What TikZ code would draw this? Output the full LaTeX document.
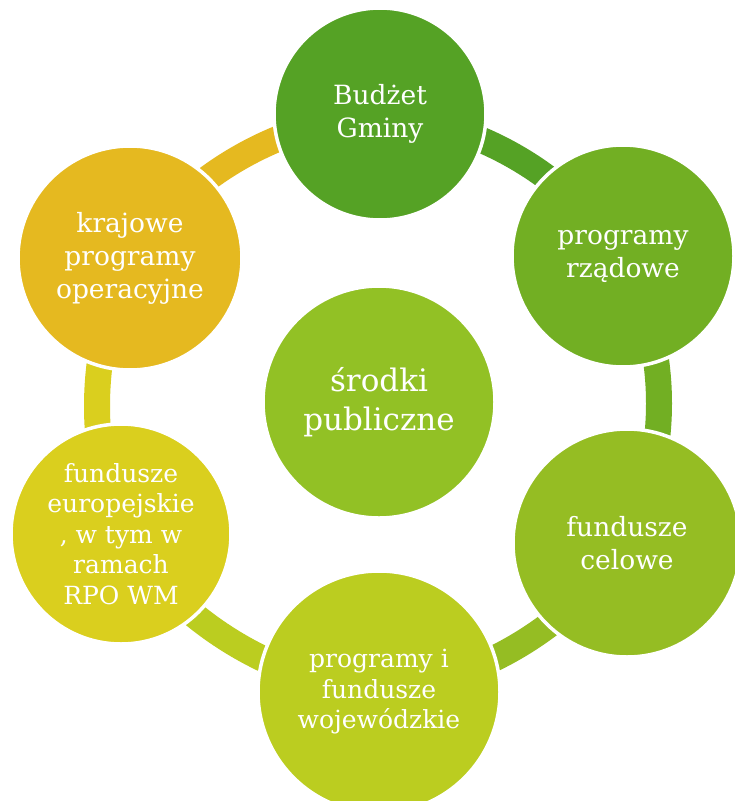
\documentclass[tikz,border=0pt]{standalone}
\usepackage{fontspec}
\setmainfont{DejaVu Serif}
\usetikzlibrary{backgrounds}
\definecolor{cGmina}{HTML}{55A225}
\definecolor{cRzad}{HTML}{72AF23}
\definecolor{cCelowe}{HTML}{95BD23}
\definecolor{cWoj}{HTML}{BBCD20}
\definecolor{cEuro}{HTML}{DACF1E}
\definecolor{cKraj}{HTML}{E5B920}
\definecolor{cCenter}{HTML}{92C125}
\tikzset{
  bubble/.style={circle, draw=white, line width=3.5pt, inner sep=0pt, text=white,
    align=center, font=\fontsize{26.5}{33}\selectfont},
  smalltext/.style={font=\fontsize{25}{30.5}\selectfont},
  bigtext/.style={font=\fontsize{31}{39}\selectfont},
  ringseg/.style={line width=26pt, looseness=0.91},
}
\begin{document}
\begin{tikzpicture}[x=1pt, y=-1pt]
\useasboundingbox (0,0) rectangle (735,801);
\clip (0,0) rectangle (735,801);

\node[bubble, fill=cGmina,  minimum size=212pt] (gmina)  at (380,114) {Budżet\\Gminy};
\node[bubble, fill=cRzad,   minimum size=222pt] (rzad)   at (623,256) {programy\\rządowe};
\node[bubble, fill=cCelowe, minimum size=228pt] (celowe) at (627,543) {fundusze\\celowe};
\node[bubble, smalltext, fill=cWoj, minimum size=242pt] (woj) at (379,692) {programy i\\fundusze\\wojewódzkie};
\node[bubble, smalltext, fill=cEuro, minimum size=220pt] (euro) at (121,534) {fundusze\\europejskie\\, w tym w\\ramach\\RPO WM};
\node[bubble, fill=cKraj,   minimum size=224pt] (kraj)   at (130,258) {krajowe\\programy\\operacyjne};
\node[bubble, bigtext, fill=cCenter, minimum size=232pt] (srodki) at (379,402) {środki\\publiczne};

\begin{scope}[on background layer]
  \fill[white] (0,0) rectangle (735,801);
  \draw[ringseg, cGmina]  (gmina.center)  to[bend left=24.6] (rzad.center);
  \draw[ringseg, cRzad]   (rzad.center)   to[bend left=26.3] (celowe.center);
  \draw[ringseg, cCelowe] (celowe.center) to[bend left=24.4] (woj.center);
  \draw[ringseg, cWoj]    (woj.center)    to[bend left=25]   (euro.center);
  \draw[ringseg, cEuro]   (euro.center)   to[bend left=22.6] (kraj.center);
  \draw[ringseg, cKraj]   (kraj.center)   to[bend left=24.8] (gmina.center);
\end{scope}
\end{tikzpicture}
\end{document}
